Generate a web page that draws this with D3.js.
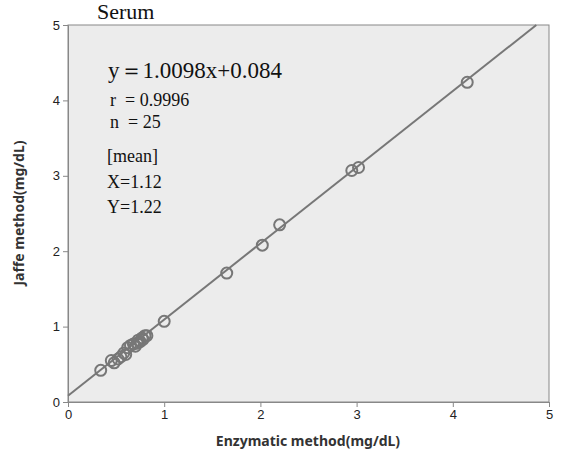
<!DOCTYPE html>
<html><head><meta charset="utf-8">
<script src="https://cdn.jsdelivr.net/npm/d3@7"></script>
<style>body{margin:0;background:#fff}</style>
</head><body>
<svg width="575" height="462"></svg>
<script>
// data
var xVals = [0.34,0.45,0.48,0.52,0.55,0.58,0.60,0.62,0.65,0.68,0.70,0.72,0.73,0.75,0.77,0.78,0.80,0.82,1.00,1.65,2.02,2.20,2.95,3.02,4.15];
var yVals = [0.42,0.55,0.52,0.57,0.60,0.65,0.63,0.72,0.75,0.77,0.74,0.78,0.82,0.80,0.85,0.83,0.88,0.88,1.07,1.71,2.08,2.35,3.07,3.11,4.24];
var ticks = [0,1,2,3,4,5];
var slope = 1.0098, intercept = 0.084;

var svg = d3.select("svg");
var x = d3.scaleLinear().domain([0,5]).range([68,549]);
var y = d3.scaleLinear().domain([0,5]).range([402,25]);

svg.append("rect").attr("x",68).attr("y",25).attr("width",481).attr("height",377)
    .attr("fill","#ececec").attr("stroke","#888");

svg.append("g").attr("transform","translate(0,402)")
    .call(d3.axisBottom(x).tickValues(ticks).tickSize(5).tickFormat(d3.format("d")))
    .call(function(g){ g.selectAll("path,line").attr("stroke","#888"); g.selectAll("text").attr("font-size",13).attr("font-family","Liberation Sans").attr("fill","#222"); });
svg.append("g").attr("transform","translate(68,0)")
    .call(d3.axisLeft(y).tickValues(ticks).tickSize(5).tickFormat(d3.format("d")))
    .call(function(g){ g.selectAll("path,line").attr("stroke","#888"); g.selectAll("text").attr("font-size",13).attr("font-family","Liberation Sans").attr("fill","#222"); });

// regression line clipped to plot
var xEnd = (5 - intercept) / slope;
svg.append("line").attr("x1",x(0)).attr("y1",y(intercept)).attr("x2",x(xEnd)).attr("y2",y(5))
    .attr("stroke","#777").attr("stroke-width",2);

svg.selectAll("circle.pt").data(xVals).enter().append("circle")
    .attr("class","pt")
    .attr("cx",function(d){ return x(d); })
    .attr("cy",function(d,i){ return y(yVals[i]); })
    .attr("r",5.5).attr("fill","none").attr("stroke","#777").attr("stroke-width",2);

var serif = "Liberation Serif";
svg.append("text").attr("x",97).attr("y",19).text("Serum").attr("font-family",serif).attr("font-size",22).attr("fill","#111");
svg.append("text").attr("x",108).attr("y",78).text("y＝1.0098x+0.084").attr("font-family",serif).attr("font-size",23).attr("fill","#111");
var lines = [["r\u00a0\u00a0= 0.9996",110,106],["n\u00a0\u00a0= 25",110,128],["[mean]",107,162],["X=1.12",107,188],["Y=1.22",107,213]];
lines.forEach(function(l){
  svg.append("text").attr("x",l[1]).attr("y",l[2]).text(l[0]).attr("font-family",serif).attr("font-size",18).attr("fill","#111");
});

svg.append("text").attr("x",308).attr("y",446).attr("text-anchor","middle").text("Enzymatic method(mg/dL)")
    .attr("font-family","Noto Sans").attr("font-size",14).attr("font-weight","bold").attr("fill","#333");
svg.append("text").attr("transform","translate(24,213) rotate(-90)").attr("text-anchor","middle").text("Jaffe method(mg/dL)")
    .attr("font-family","Noto Sans").attr("font-size",14).attr("font-weight","bold").attr("fill","#333");
</script>
</body></html>
